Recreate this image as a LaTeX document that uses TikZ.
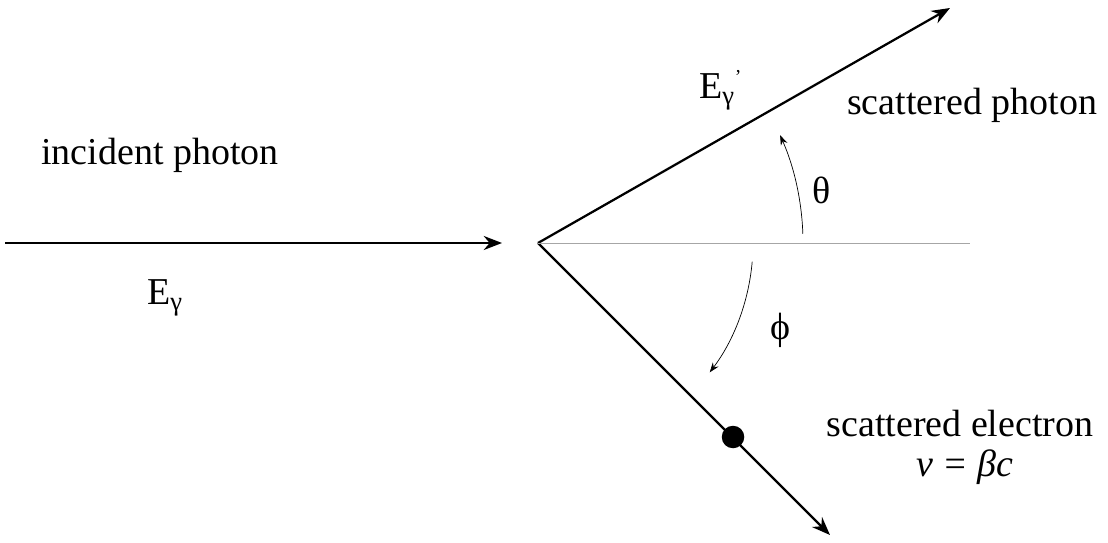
\documentclass[tikz,border=0pt]{standalone}
\usepackage{fontspec}
\setmainfont{Liberation Serif}
\usetikzlibrary{arrows.meta}
\begin{document}
\begin{tikzpicture}[x=0.025cm,y=-0.025cm,
  ray/.style={line width=1.6pt,-{Stealth[length=13pt,width=10pt]}},
  ang/.style={line width=0.5pt,-{Stealth[length=7pt,width=5pt]}},
  lbl/.style={font=\fontsize{27}{32}\selectfont,inner sep=0pt}]
\useasboundingbox (0,0) rectangle (1108,543);
\coordinate (o) at (538,243);
\coordinate (a) at (5,243);
\coordinate (ai) at (502,243);
\coordinate (p) at (950,8);
\coordinate (e) at (830,535);
\coordinate (h) at (970,243);
\draw[ray] (a) -- (ai);
\draw[ray] (o) -- (p);
\draw[ray] (o) -- (e);
\draw[line width=0.5pt,gray!70] (o) -- (h);
\node[circle,fill=black,minimum size=16pt,inner sep=0pt] (dot) at (733,437) {};
\draw[ang] ([shift={(-2:265)}]o) arc[start angle=-2,end angle=-24,radius=265];
\draw[ang] ([shift={(5:215)}]o) arc[start angle=5,end angle=37,radius=215];
\node[lbl] (t1) at (160,155) {incident photon};
\node[lbl] (t2) at (165,298) {E\textsubscript{γ}};
\node[lbl] (t3) at (717,90) {E\textsubscript{γ}\rlap{\raisebox{0.9ex}{\fontsize{14}{14}\selectfont '}}};
\node[lbl] (t4) at (972,105) {scattered photon};
\node[lbl] (t5) at (822,190) {θ};
\node[lbl] (t6) at (780,330) {ϕ};
\node[lbl] (t7) at (960,424) {scattered electron};
\node[lbl] (t8) at (965,467) {\itshape v = βc};
\end{tikzpicture}
\end{document}
